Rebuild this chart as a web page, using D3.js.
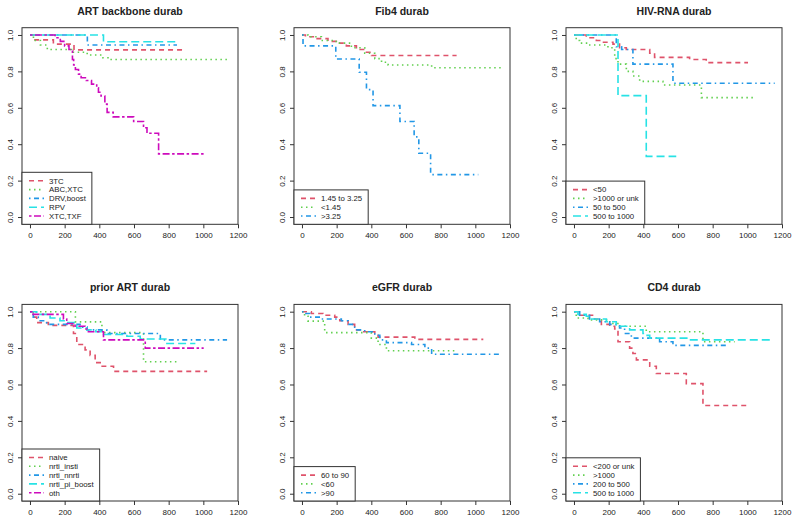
<!DOCTYPE html>
<html>
<head>
<meta charset="utf-8">
<title>durab curves</title>
<script src="https://d3js.org/d3.v7.min.js"></script>
<style>
  body { margin: 0; background: #fff; }
  svg text { font-family: "Liberation Sans", Arial, sans-serif; fill: #222; }
  .ttl { font-size: 10.5px; font-weight: bold; text-anchor: middle; }
  .tick text { font-size: 8px; }
  .leg text { font-size: 7.8px; }
</style>
</head>
<body>
<div id="chart"></div>
<script>
"use strict"
// axis ticks
var xTicks = [0, 200, 400, 600, 800, 1000, 1200];
var yTicks = [0, 0.2, 0.4, 0.6, 0.8, 1.0];

// R default palette 2..6 and lty 2..6
var colors = ["#DF536B", "#61D04F", "#2297E6", "#28E2E5", "#CD0BBC"];
var dashes = ["5,4", "1.5,3.5", "1.5,3.5,5,3.5", "8,4", "2.5,2.5,7,2.5"];

var titles = ["ART backbone durab", "Fib4 durab", "HIV-RNA durab",
              "prior ART durab", "eGFR durab", "CD4 durab"];

// ---- ART backbone
var artGroups = ["3TC", "ABC,XTC", "DRV,boost", "RPV", "XTC,TXF"];
var art3TC = [[0,1],[29,0.973],[135,0.95],[254,0.918],[887,0.918]];
var artABC = [[0,1],[20,0.97],[60,0.945],[100,0.92],[240,0.905],[330,0.89],[420,0.875],[450,0.865],[1150,0.865]];
var artDRV = [[0,1],[331,0.945],[848,0.945]];
var artRPV = [[0,1],[424,0.963],[858,0.963]];
var artXTC = [[0,1],[145,0.985],[175,0.965],[200,0.94],[225,0.92],[245,0.865],[252,0.835],[262,0.81],[280,0.785],
              [295,0.765],[325,0.75],[355,0.73],[385,0.71],[395,0.685],[410,0.665],[432,0.62],[445,0.575],[480,0.55],
              [598,0.525],[655,0.49],[675,0.46],[742,0.347],[1012,0.347]];

// ---- Fib4
var fibGroups = ["1.45 to 3.25", "<1.45", ">3.25"];
var fibMid = [[0,1],[20,0.99],[73,0.98],[150,0.965],[198,0.955],[256,0.94],[314,0.92],[362,0.905],[401,0.887],[892,0.887]];
var fibLow = [[0,1],[35,0.99],[112,0.97],[198,0.955],[285,0.93],[362,0.9],[420,0.87],[459,0.85],[497,0.835],[748,0.82],[1162,0.82]];
var fibHigh = [[0,1],[6,0.94],[195,0.868],[330,0.795],[372,0.70],[410,0.612],[565,0.525],[647,0.44],[674,0.35],[742,0.233],[1017,0.233]];

// ---- HIV-RNA
var hivGroups = ["<50", ">1000 or unk", "50 to 500", "500 to 1000"];
var hivLt50 = [[0,1],[71,0.985],[129,0.97],[158,0.96],[225,0.95],[263,0.93],[302,0.92],[437,0.9],[465,0.877],[667,0.865],[763,0.848],[1004,0.848]];
var hivGt1000 = [[0,1],[13,0.97],[33,0.955],[81,0.945],[196,0.93],[235,0.87],[254,0.84],[302,0.80],[340,0.775],[379,0.745],[513,0.725],[735,0.656],[1052,0.656]];
var hiv50to500 = [[0,1],[244,0.935],[275,0.92],[340,0.84],[571,0.735],[1158,0.735]];
var hiv500to1000 = [[0,1],[254,0.667],[417,0.333],[590,0.333]];

// ---- prior ART
var priorGroups = ["naive", "nrti_insti", "nrti_nnrti", "nrti_pi_boost", "oth"];
var priorNaive = [[0,1],[19,0.97],[39,0.94],[106,0.925],[251,0.88],[270,0.82],[318,0.79],[347,0.76],[376,0.72],[405,0.70],[482,0.672],[1022,0.672]];
var priorInsti = [[0,1],[262,0.944],[415,0.885],[655,0.725],[848,0.725]];
var priorNnrti = [[0,1],[19,0.97],[48,0.95],[96,0.93],[289,0.915],[330,0.90],[443,0.88],[752,0.845],[1137,0.845]];
var priorPi = [[0,1],[39,0.985],[116,0.965],[173,0.95],[212,0.94],[270,0.91],[328,0.9],[380,0.89],[424,0.875],[559,0.865],[636,0.85],[790,0.825],[954,0.825]];
var priorOth = [[0,1],[10,0.985],[193,0.96],[212,0.935],[260,0.92],[318,0.905],[337,0.89],[424,0.845],[665,0.80],[1002,0.80]];

// ---- eGFR
var egfrGroups = ["60 to 90", "<60", ">90"];
var egfr60to90 = [[0,1],[54,0.99],[121,0.98],[189,0.97],[218,0.95],[266,0.93],[304,0.9],[343,0.89],[420,0.88],[439,0.86],[651,0.848],[1046,0.848]];
var egfrLt60 = [[0,1],[15,0.975],[35,0.948],[131,0.885],[400,0.855],[439,0.82],[487,0.785],[882,0.785]];
var egfrGt90 = [[0,1],[15,0.99],[44,0.97],[112,0.96],[227,0.95],[266,0.93],[304,0.90],[362,0.89],[420,0.87],[449,0.845],[487,0.83],[632,0.82],[709,0.80],[748,0.766],[1143,0.766]];

// ---- CD4
var cd4Groups = ["<200 or unk", ">1000", "200 to 500", "500 to 1000"];
var cd4Lt200 = [[0,1],[33,0.98],[119,0.96],[158,0.93],[206,0.92],[235,0.905],[254,0.835],[321,0.80],[340,0.77],[360,0.735],[437,0.70],[475,0.66],[648,0.605],[744,0.485],[1004,0.485]];
var cd4Gt1000 = [[0,1],[13,0.965],[81,0.955],[206,0.935],[263,0.92],[417,0.89],[744,0.835],[927,0.835]];
var cd4200to500 = [[0,1],[33,0.98],[90,0.96],[148,0.945],[206,0.93],[263,0.91],[292,0.88],[331,0.855],[494,0.835],[571,0.815],[879,0.815]];
var cd4500to1000 = [[0,1],[23,0.985],[71,0.975],[100,0.96],[187,0.945],[244,0.92],[321,0.90],[398,0.88],[417,0.87],[437,0.855],[667,0.845],[1148,0.845]];

var panels = [
  {groups: artGroups, series: [art3TC, artABC, artDRV, artRPV, artXTC]},
  {groups: fibGroups, series: [fibMid, fibLow, fibHigh]},
  {groups: hivGroups, series: [hivLt50, hivGt1000, hiv50to500, hiv500to1000]},
  {groups: priorGroups, series: [priorNaive, priorInsti, priorNnrti, priorPi, priorOth]},
  {groups: egfrGroups, series: [egfr60to90, egfrLt60, egfrGt90]},
  {groups: cd4Groups, series: [cd4Lt200, cd4Gt1000, cd4200to500, cd4500to1000]}
];

var W = 793, H = 524;
var plotW = 216, plotH = 196.6;
var svg = d3.select("#chart").append("svg").attr("width", W).attr("height", H);

panels.forEach(function(p, i) {
  var col = i % 3, row = Math.floor(i / 3);
  var left = 22 + 272 * col, top = 27.7 + 276.7 * row;

  var x = d3.scaleLinear().domain([-46, 1200]).range([left, left + plotW]);
  var y = d3.scaleLinear().domain([-0.04, 1.04]).range([top + plotH, top]);

  var g = svg.append("g");

  // title
  g.append("text").attr("class", "ttl")
    .attr("x", left + plotW / 2).attr("y", top - 13)
    .text(titles[i]);

  // axes
  g.append("g").attr("transform", "translate(0," + (top + plotH) + ")")
    .call(d3.axisBottom(x).tickValues(xTicks).tickSize(4).tickPadding(4).tickFormat(d3.format("d")))
    .call(function(a) { a.select(".domain").remove(); a.selectAll("line").attr("stroke", "#333"); });

  var ya = g.append("g").attr("transform", "translate(" + left + ",0)")
    .call(d3.axisLeft(y).tickValues(yTicks).tickSize(4).tickFormat(d3.format(".1f")))
    .call(function(a) { a.select(".domain").remove(); a.selectAll("line").attr("stroke", "#333"); });
  ya.selectAll(".tick text")
    .attr("x", 0).attr("dy", 0)
    .attr("transform", "translate(-9,0) rotate(-90)")
    .attr("text-anchor", "middle");

  // curves
  var line = d3.line().x(function(d) { return x(d[0]); }).y(function(d) { return y(d[1]); })
    .curve(d3.curveStepAfter);
  p.series.forEach(function(s, k) {
    g.append("path").datum(s)
      .attr("d", line)
      .attr("fill", "none")
      .attr("stroke", colors[k])
      .attr("stroke-width", 1.6)
      .attr("stroke-dasharray", dashes[k]);
  });

  // frame
  g.append("rect").attr("x", left).attr("y", top).attr("width", plotW).attr("height", plotH)
    .attr("fill", "none").attr("stroke", "#333").attr("stroke-width", 1);

  // legend (bottom-left)
  var n = p.groups.length, rowH = 8.8;
  var legH = n * rowH + 8;
  var leg = g.append("g").attr("class", "leg");
  var box = leg.append("rect").attr("x", left).attr("y", top + plotH - legH)
    .attr("height", legH).attr("fill", "#fff").attr("stroke", "#333").attr("stroke-width", 1);
  var maxW = 0;
  p.groups.forEach(function(name, k) {
    var cy = top + plotH - legH + 8.5 + k * rowH;
    leg.append("line").attr("x1", left + 7).attr("x2", left + 22).attr("y1", cy).attr("y2", cy)
      .attr("stroke", colors[k]).attr("stroke-width", 1.6).attr("stroke-dasharray", dashes[k]);
    var t = leg.append("text").attr("x", left + 27).attr("y", cy + 2.8).text(name);
    maxW = Math.max(maxW, t.node().getComputedTextLength());
  });
  box.attr("width", 27 + maxW + 6);
});
</script>
</body>
</html>
